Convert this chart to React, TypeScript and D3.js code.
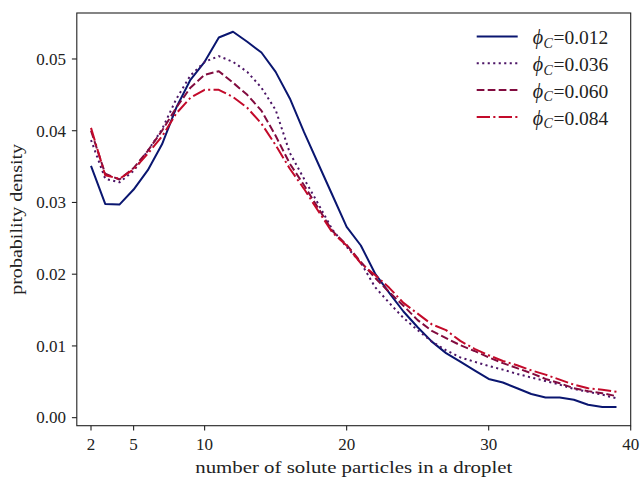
import React from "react";
import * as d3 from "d3";

const xs = d3.range(2, 40);

const phi012 = [0.0351, 0.0298, 0.0297, 0.0318, 0.0345, 0.0381, 0.0432, 0.0471, 0.0496, 0.0530, 0.0538, 0.0524, 0.0509, 0.0482, 0.0445, 0.0398, 0.0354, 0.0310, 0.0266, 0.0240, 0.0201, 0.0174, 0.0148, 0.0126, 0.0106, 0.0090, 0.0078, 0.0066, 0.0054, 0.0049, 0.0041, 0.0033, 0.0028, 0.0028, 0.0025, 0.0018, 0.0015, 0.0015];
const phi036 = [0.0387, 0.0333, 0.0328, 0.0344, 0.0372, 0.0402, 0.0444, 0.0477, 0.0496, 0.0504, 0.0496, 0.0482, 0.0460, 0.0429, 0.0369, 0.0333, 0.0298, 0.0262, 0.0238, 0.0216, 0.0182, 0.0160, 0.0139, 0.0122, 0.0106, 0.0094, 0.0084, 0.0078, 0.0072, 0.0067, 0.0061, 0.0056, 0.0051, 0.0046, 0.0040, 0.0036, 0.0032, 0.0027];
const phi060 = [0.0400, 0.0340, 0.0332, 0.0348, 0.0372, 0.0400, 0.0432, 0.0460, 0.0478, 0.0483, 0.0467, 0.0450, 0.0428, 0.0393, 0.0354, 0.0324, 0.0292, 0.0260, 0.0241, 0.0217, 0.0195, 0.0175, 0.0156, 0.0136, 0.0121, 0.0111, 0.0101, 0.0093, 0.0084, 0.0076, 0.0069, 0.0062, 0.0054, 0.0048, 0.0041, 0.0037, 0.0034, 0.0030];
const phi084 = [0.0404, 0.0338, 0.0333, 0.0346, 0.0368, 0.0392, 0.0424, 0.0446, 0.0457, 0.0457, 0.0447, 0.0432, 0.0410, 0.0380, 0.0347, 0.0319, 0.0288, 0.0258, 0.0240, 0.0215, 0.0199, 0.0181, 0.0160, 0.0145, 0.0130, 0.0122, 0.0107, 0.0096, 0.0087, 0.0079, 0.0073, 0.0066, 0.0060, 0.0053, 0.0046, 0.0041, 0.0039, 0.0036];

const seriesLabels = ["0.012", "0.036", "0.060", "0.084"];
const seriesValues = [phi012, phi036, phi060, phi084];
const seriesColors = ["#0a1670", "#4c1566", "#820c3f", "#c30a2a"];
const seriesDash = ["none", "2.1,3.4", "7.7,3.3", "13.3,3.3,2.1,3.3"];

const xTicks = [2, 5, 10, 20, 30, 40];
const yTicks = [0, 0.01, 0.02, 0.03, 0.04, 0.05];

const W = 640;
const H = 477;
const L = 76.8, R = 630.7, T = 13, B = 425.7;
const FONT = "'Liberation Serif', 'DejaVu Serif', serif";
const FS = 17;

export default function App() {
  const x = d3.scaleLinear().domain([1, 40]).range([L, R]);
  const y = d3.scaleLinear().domain([-0.00112, 0.05641]).range([B, T]);
  const line = d3
    .line<number>()
    .x((_, i) => x(xs[i]))
    .y((d) => y(d));

  return (
    <svg
      width={W}
      height={H}
      style={{ position: "absolute", left: 0, top: 0, background: "#fff" }}
      fontFamily={FONT}
    >
      <rect x={0} y={0} width={W} height={H} fill="#fff" />
      <defs>
        <clipPath id="plotclip">
          <rect x={L} y={T} width={R - L} height={B - T} />
        </clipPath>
      </defs>
      <g clipPath="url(#plotclip)">
        {seriesValues.map((vals, k) => (
          <path
            key={k}
            d={line(vals) || ""}
            fill="none"
            stroke={seriesColors[k]}
            strokeWidth={2}
            strokeDasharray={seriesDash[k]}
            strokeLinejoin="round"
          />
        ))}
      </g>
      <rect x={L} y={T} width={R - L} height={B - T} fill="none" stroke="#222" strokeWidth={1.1} />
      {xTicks.map((t) => (
        <g key={"x" + t}>
          <line x1={x(t)} x2={x(t)} y1={B} y2={B + 4.9} stroke="#222" strokeWidth={1.1} />
          <text x={x(t)} y={450} textAnchor="middle" fontSize={FS} fill="#222">
            {t}
          </text>
        </g>
      ))}
      {yTicks.map((t) => (
        <g key={"y" + t}>
          <line x1={L - 4.9} x2={L} y1={y(t)} y2={y(t)} stroke="#222" strokeWidth={1.1} />
          <text x={66} y={y(t) + 5.8} textAnchor="end" fontSize={FS} fill="#222">
            {t.toFixed(2)}
          </text>
        </g>
      ))}
      <text
        x={(L + R) / 2}
        y={473}
        textAnchor="middle"
        fontSize={FS}
        fill="#222"
        textLength={317}
        lengthAdjust="spacingAndGlyphs"
      >
        number of solute particles in a droplet
      </text>
      <text
        transform={`translate(21.5,${(T + B) / 2}) rotate(-90)`}
        textAnchor="middle"
        fontSize={FS}
        fill="#222"
        textLength={151}
        lengthAdjust="spacingAndGlyphs"
      >
        probability density
      </text>
      {seriesLabels.map((lab, k) => {
        const by = 44.3 + k * 26.8;
        return (
          <g key={"leg" + k}>
            <line
              x1={476.7}
              x2={517.7}
              y1={by - 7.8}
              y2={by - 7.8}
              stroke={seriesColors[k]}
              strokeWidth={2}
              strokeDasharray={seriesDash[k]}
            />
            <text x={532.7} y={by} fontSize={19.5} fill="#222">
              <tspan fontStyle="italic" fontSize={20}>ϕ</tspan>
              <tspan fontStyle="italic" fontSize={14} dy={3.5} dx={0.5}>C</tspan>
              <tspan dy={-3.5} dx={0.5}>={lab}</tspan>
            </text>
          </g>
        );
      })}
    </svg>
  );
}
